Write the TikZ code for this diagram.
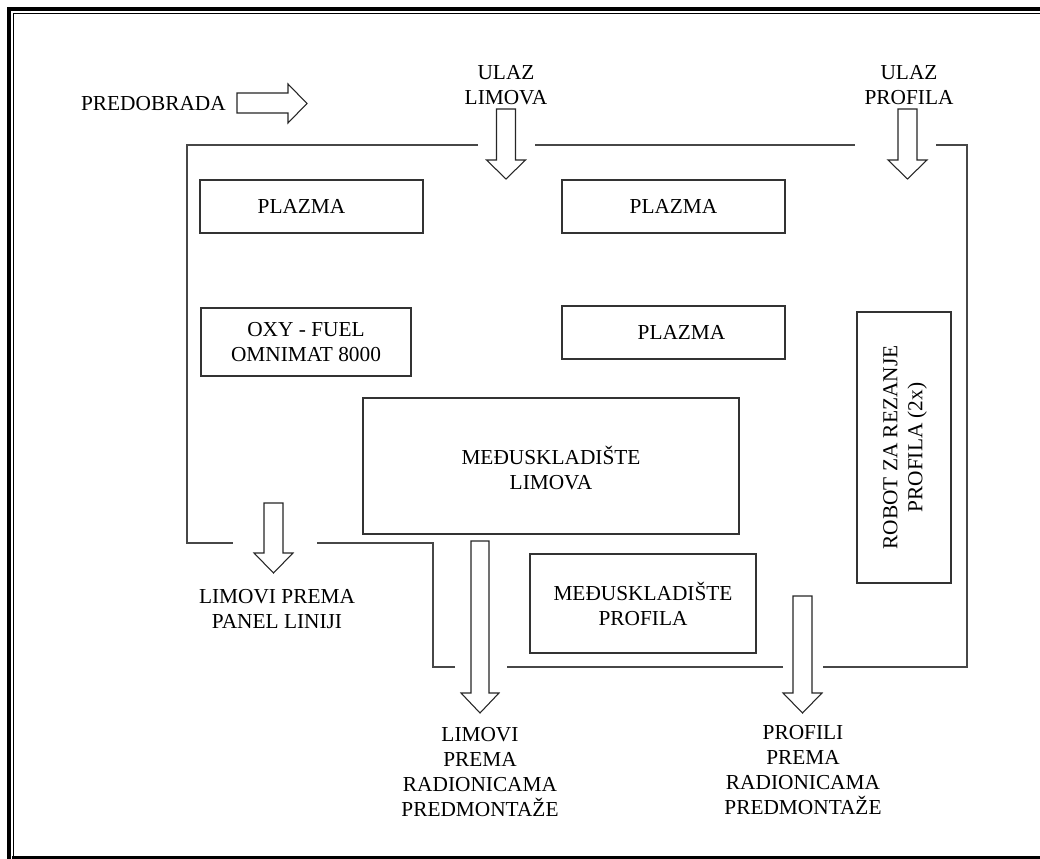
\documentclass[tikz,border=0pt]{standalone}
\usepackage{fontspec}
\setmainfont{Liberation Serif}
\begin{document}
\begin{tikzpicture}[x=0.75pt,y=-0.75pt,
  lbl/.style={font=\fontsize{16}{18.8}\selectfont, align=center, inner sep=0pt},
  box/.style={draw=black!80, line width=1.1pt, font=\fontsize{16}{18.8}\selectfont, align=center, inner sep=0pt, anchor=center},
  loopline/.style={draw=black!72, line width=1.2pt},
  blockarrow/.style={draw=black!85, line width=0.8pt, fill=white, line join=miter},
  framethick/.style={line width=3pt},
  framethin/.style={line width=1.3pt}]
\useasboundingbox (0,0) rectangle (1040,859);
% frame
\draw[framethick] (9,859) -- (9,8.7) -- (1040,8.7);
\draw[framethin] (13.6,857) -- (13.6,13.6) -- (1040,13.6);
\draw[framethick] (12,858) -- (1040,858);
% loop outline
\draw[loopline] (478,145) -- (187,145) -- (187,543) -- (233,543);
\draw[loopline] (535,145) -- (855,145);
\draw[loopline] (936,145) -- (967,145) -- (967,667) -- (823,667);
\draw[loopline] (783,667) -- (507,667);
\draw[loopline] (455,667) -- (433,667) -- (433,543) -- (317,543);
% boxes
\node[box, minimum width=223*0.75pt, minimum height=53*0.75pt] (plazma1) at (311.5,206.5) {};
\node[lbl] (plazma1txt) at (301.5,206.5) {PLAZMA};
\node[box, minimum width=223*0.75pt, minimum height=53*0.75pt] (plazma2) at (673.5,206.5) {PLAZMA};
\node[box, minimum width=223*0.75pt, minimum height=53*0.75pt] (plazma3) at (673.5,332.5) {};
\node[lbl] (plazma3txt) at (681.5,332.5) {PLAZMA};
\node[box, minimum width=210*0.75pt, minimum height=68*0.75pt] (oxy) at (306,342) {OXY - FUEL\\OMNIMAT 8000};
\node[box, minimum width=376*0.75pt, minimum height=136*0.75pt] (medlim) at (551,466) {};
\node[lbl] (medlimtxt) at (551,468) {MEĐUSKLADIŠTE\\LIMOVA};
\node[box, minimum width=226*0.75pt, minimum height=99*0.75pt] (medprof) at (643,603.5) {MEĐUSKLADIŠTE\\PROFILA};
\node[box, minimum width=94*0.75pt, minimum height=271*0.75pt] (robot) at (904,447.5) {};
\node[lbl, rotate=90] (robottxt) at (905,447.5) {ROBOT ZA REZANJE\\PROFILA (2x)};
% block arrows
\draw[blockarrow] (237,93) -- (288,93) -- (288,84) -- (307,103.5) -- (288,123) -- (288,113) -- (237,113) -- cycle;
\draw[blockarrow] (496.5,109) -- (515.5,109) -- (515.5,160) -- (525.5,160) -- (506,179) -- (486.5,160) -- (496.5,160) -- cycle;
\draw[blockarrow] (898,109) -- (917,109) -- (917,160) -- (927,160) -- (907.5,179) -- (888,160) -- (898,160) -- cycle;
\draw[blockarrow] (264,503) -- (283,503) -- (283,553) -- (293,553) -- (273.5,573) -- (254,553) -- (264,553) -- cycle;
\draw[blockarrow] (471,541) -- (489,541) -- (489,693) -- (499,693) -- (480,713) -- (461,693) -- (471,693) -- cycle;
\draw[blockarrow] (793,596) -- (812,596) -- (812,693) -- (822,693) -- (802.5,713) -- (783,693) -- (793,693) -- cycle;
% labels
\node[lbl, anchor=east] (predobrada) at (226,103.5) {PREDOBRADA};
\node[lbl] (ulazlim) at (506,85) {ULAZ\\LIMOVA};
\node[lbl] (ulazprof) at (909,85) {ULAZ\\PROFILA};
\node[lbl] (panel) at (277,609) {LIMOVI PREMA\\PANEL LINIJI};
\node[lbl] (limrad) at (480,772) {LIMOVI\\PREMA\\RADIONICAMA\\PREDMONTAŽE};
\node[lbl] (profrad) at (803,770) {PROFILI\\PREMA\\RADIONICAMA\\PREDMONTAŽE};
\end{tikzpicture}
\end{document}
